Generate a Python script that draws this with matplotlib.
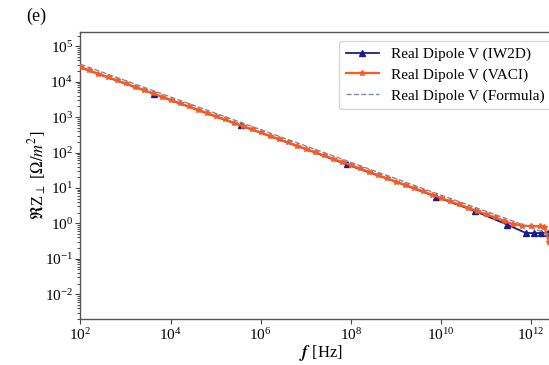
import numpy as np
import matplotlib
matplotlib.use('Agg')
import matplotlib.pyplot as plt

plt.rcParams['font.family'] = ['Liberation Serif', 'DejaVu Serif']
plt.rcParams['mathtext.fontset'] = 'stix'

# IW2D solver output (markers only on the computed points)
f_iw2d = [1e2, 1e3, 4.2e3, 1e4, 1e5, 3.6e5, 1e6, 1e7, 8.1e7, 1e9, 8.0e9,
          5.6e10, 3.0e11, 7.6e11, 1.15e12, 1.7e12, 2.35e12, 3.2e12]
re_iw2d = [25000, 8700, 4600, 3000, 1040, 580, 360, 125, 46, 15.0, 5.6,
           2.25, 0.92, 0.54, 0.53, 0.54, 0.55, 0.55]
iw2d_marks = [2, 5, 8, 10, 11, 12, 13, 14, 15, 16]

# VACI output, 5 points per decade
f_vaci = [10**(2 + 0.2*i) for i in range(52)] + [10**12.3, 10**12.4, 10**12.6]
re_vaci = [25700, 20800, 16800, 13600, 11000, 8890, 7190, 5820, 4700, 3800,
           3080, 2490, 2010, 1630, 1320, 1060, 861, 696, 563, 455,
           368, 298, 241, 195, 157, 127, 103, 83.3, 67.3, 54.5,
           44.0, 35.6, 28.8, 23.3, 18.8, 15.2, 12.3, 9.97, 8.06, 6.52,
           5.27, 4.26, 3.45, 2.79, 2.25, 1.82, 1.48, 1.19, 0.96, 0.87,
           0.83, 0.83, 0.80, 0.30, 0.03]

# analytic thick-wall formula
f_formula = [1e2, 1e3, 1e4, 1e5, 1e6, 1e7, 1e8, 1e9, 1e10, 1e11, 1e12, 1e13]
re_formula = [31000, 10700, 3700, 1280, 443, 153, 53, 18.3, 6.3, 2.2, 0.76, 0.26]

fig = plt.figure(figsize=(5.49, 3.65), dpi=100)
ax = fig.add_axes([0.1466, 0.126, 0.874, 0.786])

ax.plot(f_iw2d, re_iw2d, '-', color='#1c1c8a', marker='^', ms=4.5, lw=1.3,
        markevery=iw2d_marks, label='Real Dipole V (IW2D)', zorder=2)
ax.plot(f_vaci, re_vaci, '-', color='#ff5a1e', marker='*', ms=3.8, lw=1.6,
        label='Real Dipole V (VACI)', zorder=3)
ax.plot(f_formula, re_formula, '--', color='#7d8aa3', lw=1.0,
        label='Real Dipole V (Formula)', zorder=4)

ax.set_xscale('log')
ax.set_yscale('log')
ax.set_xlim(1e2, 4.5e12)
ax.set_ylim(2e-3, 2.5e5)
ax.set_xticks([1e2, 1e4, 1e6, 1e8, 1e10, 1e12])
ax.set_yticks([1e-2, 1e-1, 1e0, 1e1, 1e2, 1e3, 1e4, 1e5])
ax.tick_params(labelsize=11, length=3.5, width=0.8, color='#444444', pad=2)
ax.tick_params(which='minor', length=2, width=0.5)
ax.xaxis.set_minor_locator(matplotlib.ticker.NullLocator())
for s in ax.spines.values():
    s.set_color('#555555')
    s.set_linewidth(1.0)

ax.set_xlabel(r'$\boldsymbol{f}$ [Hz]', fontsize=12, labelpad=0)
ax.set_ylabel(r'$\Re$Z$_\perp$ [$\Omega/m^2$]', fontsize=12)
ax.yaxis.set_label_coords(-0.066, 0.5)
ax.legend(loc='upper right', fontsize=11, frameon=True, edgecolor='#cccccc',
          handlelength=2.2, borderaxespad=0.6, labelspacing=0.45)

fig.text(0.047, 0.955, '(e)', fontsize=13, ha='left', va='center')

plt.savefig('out.png', dpi=100)
plt.close()
